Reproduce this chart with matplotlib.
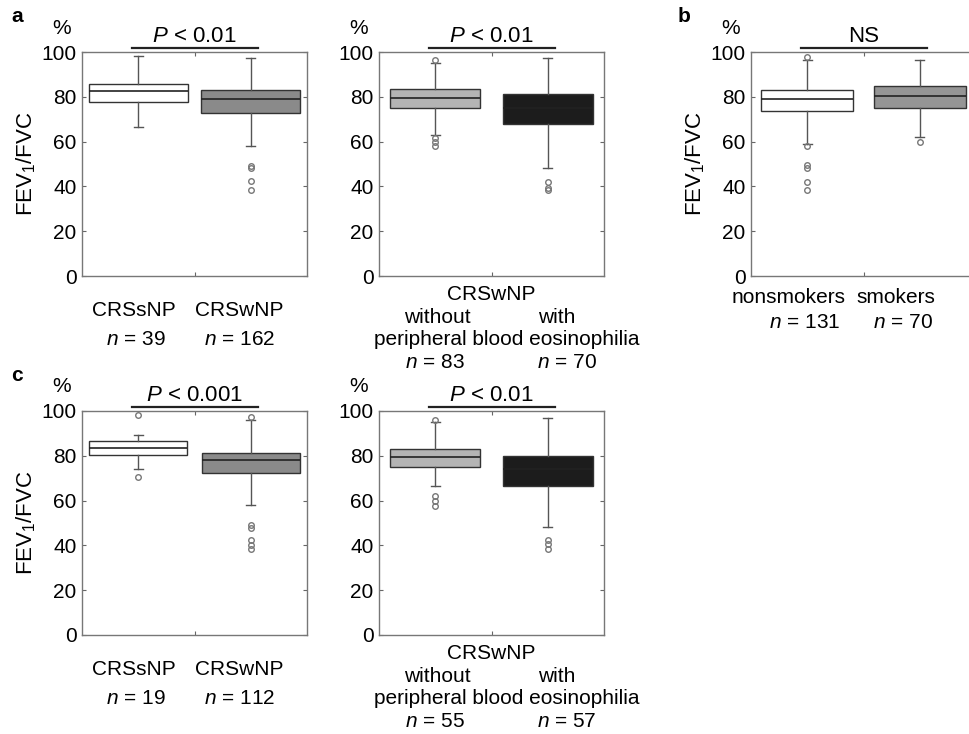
import matplotlib.pyplot as plt
from matplotlib.transforms import blended_transform_factory

plt.rcParams['font.family'] = ['Liberation Sans', 'DejaVu Sans']
plt.rcParams['mathtext.fontset'] = 'custom'
plt.rcParams['mathtext.rm'] = 'Liberation Sans'
plt.rcParams['mathtext.it'] = 'Liberation Sans:italic'

W, H = 969, 734

# panel a (left): CRSsNP vs CRSwNP
a1_n = [39, 162]
a1_q1 = [77.7, 72.8]
a1_med = [82.6, 78.8]
a1_q3 = [85.9, 82.9]
a1_lo = [66.3, 58.0]
a1_hi = [98.1, 97.5]
a1_fliers = [[], [49.2, 48.0, 42.3, 38.3]]

# panel a (right): CRSwNP without / with peripheral blood eosinophilia
a2_n = [83, 70]
a2_q1 = [75.0, 67.7]
a2_med = [79.5, 75.0]
a2_q3 = [83.4, 81.1]
a2_lo = [62.8, 48.0]
a2_hi = [95.0, 97.5]
a2_fliers = [[96.3, 61.5, 60.0, 58.0], [42.0, 39.5, 38.3]]

# panel b: nonsmokers vs smokers
b_n = [131, 70]
b_q1 = [73.6, 75.2]
b_med = [79.2, 80.4]
b_q3 = [82.9, 84.7]
b_lo = [59.1, 62.1]
b_hi = [96.3, 96.3]
b_fliers = [[97.8, 58.0, 49.4, 48.0, 42.0, 38.6], [59.9]]

# panel c (left)
c1_n = [19, 112]
c1_q1 = [80.3, 72.4]
c1_med = [83.7, 78.3]
c1_q3 = [86.4, 81.3]
c1_lo = [74.0, 58.0]
c1_hi = [89.2, 96.0]
c1_fliers = [[98.0, 70.6], [97.3, 49.1, 47.6, 42.4, 40.2, 38.4]]

# panel c (right)
c2_n = [55, 57]
c2_q1 = [75.1, 66.4]
c2_med = [79.6, 74.0]
c2_q3 = [83.0, 80.0]
c2_lo = [66.7, 48.2]
c2_hi = [95.0, 96.7]
c2_fliers = [[96.0, 62.0, 60.0, 57.5], [42.3, 40.5, 38.6]]

fig = plt.figure(figsize=(W / 100, H / 100), dpi=100)


def px_rect(left, right, top, bottom):
    return [left / W, 1 - bottom / H, (right - left) / W, (bottom - top) / H]


def panel(rect, q1, med, q3, lo, hi, fliers, colors, width, ptext, ylabel=False):
    ax = fig.add_axes(px_rect(*rect))
    stats = []
    for i in range(2):
        stats.append(dict(q1=q1[i], med=med[i], q3=q3[i], whislo=lo[i],
                          whishi=hi[i], fliers=fliers[i]))
    bp = ax.bxp(stats, positions=[1, 2], widths=width, patch_artist=True,
                capwidths=0.08,
                boxprops=dict(edgecolor='#333333', linewidth=1.0),
                medianprops=dict(color='#222222', linewidth=1.2),
                whiskerprops=dict(color='#555555', linewidth=1.0),
                capprops=dict(color='#555555', linewidth=1.0),
                flierprops=dict(marker='o', markersize=4, markerfacecolor='none',
                                markeredgecolor='#777777', markeredgewidth=1.0))
    for patch, c in zip(bp['boxes'], colors):
        patch.set_facecolor(c)
    ax.set_xlim(0.5, 2.5)
    ax.set_ylim(0, 100)
    ax.set_yticks([0, 20, 40, 60, 80, 100])
    ax.set_xticks([1.5])
    ax.set_xticklabels([])
    ax.tick_params(direction='in', length=3, width=0.8, color='#666666',
                   right=True, top=True, labelsize=15, pad=4)
    for s in ax.spines.values():
        s.set_color('#777777')
        s.set_linewidth(1.0)
    top = rect[2]
    tr = blended_transform_factory(ax.transData, fig.transFigure)
    ax.plot([0.94, 2.06], [1 - (top - 4) / H] * 2, color='#222222', lw=1.6,
            transform=tr, clip_on=False)
    ax.text(1.5, 1 - (top - 10) / H, ptext, transform=tr, ha='center',
            va='baseline', fontsize=16)
    fig.text((rect[0] - 20) / W, 1 - (top - 24) / H, '%', ha='center',
             va='center', fontsize=15)
    if ylabel:
        ax.set_ylabel('FEV$_1$/FVC', fontsize=16)
        ax.yaxis.set_label_coords(-44 / (rect[1] - rect[0]), 0.5)
    return ax, tr


def labels(ax, tr, lines):
    for x, y, s in lines:
        ax.text(x, 1 - y / H, s, transform=tr, ha='center', va='baseline',
                fontsize=15)


white, mid, light, dark = 'white', '#8a8a8a', '#b4b4b4', '#1c1c1c'

ax, tr = panel((82, 307, 52, 276), a1_q1, a1_med, a1_q3, a1_lo, a1_hi, a1_fliers,
               [white, mid], 0.88, '$P$ < 0.01', ylabel=True)
labels(ax, tr, [(0.96, 316, 'CRSsNP'), (1.9, 316, 'CRSwNP'),
                (0.98, 345, f'$n$ = {a1_n[0]}'), (1.9, 345, f'$n$ = {a1_n[1]}')])

ax, tr = panel((379, 604, 52, 276), a2_q1, a2_med, a2_q3, a2_lo, a2_hi, a2_fliers,
               [light, dark], 0.8, '$P$ < 0.01')
labels(ax, tr, [(1.5, 300, 'CRSwNP'), (1.02, 323, 'without'), (2.08, 323, 'with'),
                (1.64, 345, 'peripheral blood eosinophilia'),
                (1.0, 368, f'$n$ = {a2_n[0]}'), (2.17, 368, f'$n$ = {a2_n[1]}')])

ax, tr = panel((751, 976, 52, 276), b_q1, b_med, b_q3, b_lo, b_hi, b_fliers,
               [white, '#959595'], 0.82, 'NS', ylabel=True)
labels(ax, tr, [(0.83, 303, 'nonsmokers'), (1.79, 303, 'smokers'),
                (0.98, 328, f'$n$ = {b_n[0]}'), (1.85, 328, f'$n$ = {b_n[1]}')])

ax, tr = panel((82, 307, 411, 635), c1_q1, c1_med, c1_q3, c1_lo, c1_hi, c1_fliers,
               [white, mid], 0.87, '$P$ < 0.001', ylabel=True)
labels(ax, tr, [(0.96, 675, 'CRSsNP'), (1.9, 675, 'CRSwNP'),
                (0.98, 704, f'$n$ = {c1_n[0]}'), (1.9, 704, f'$n$ = {c1_n[1]}')])

ax, tr = panel((379, 604, 411, 635), c2_q1, c2_med, c2_q3, c2_lo, c2_hi, c2_fliers,
               [light, dark], 0.8, '$P$ < 0.01')
labels(ax, tr, [(1.5, 659, 'CRSwNP'), (1.02, 682, 'without'), (2.08, 682, 'with'),
                (1.64, 704, 'peripheral blood eosinophilia'),
                (1.0, 727, f'$n$ = {c2_n[0]}'), (2.17, 727, f'$n$ = {c2_n[1]}')])

for x, y, s in [(17, 17, 'a'), (684, 17, 'b'), (17, 375, 'c')]:
    fig.text(x / W, 1 - y / H, s, ha='center', va='center', fontsize=15,
             fontweight='bold')

fig.savefig('out.png', dpi=100)
